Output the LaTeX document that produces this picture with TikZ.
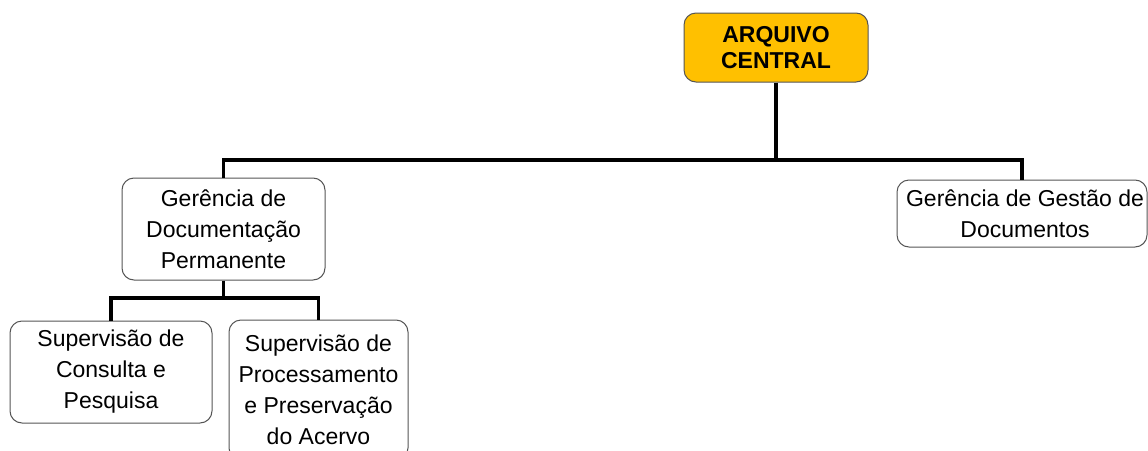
\documentclass[tikz,border=0pt]{standalone}
\usepackage{fontspec}
\setmainfont{Liberation Sans}
\definecolor{acfill}{HTML}{FFC000}
\definecolor{boxline}{HTML}{555555}
\begin{document}
\begin{tikzpicture}[x=1pt,y=-1pt,
  box/.style={draw=boxline, line width=1pt, rounded corners=12pt, fill=white,
    align=center, inner sep=0pt, font=\fontsize{23}{31}\selectfont},
  topbox/.style={draw=boxline, line width=1pt, rounded corners=12pt, fill=acfill,
    align=center, inner sep=0pt, font=\bfseries\fontsize{23}{26.5}\selectfont},
  conn/.style={line width=3.6pt, black}]
\useasboundingbox (0,0) rectangle (1148,450);
\clip (0,0) rectangle (1148,450);
\fill[white] (0,0) rectangle (1148,450);
\node[topbox, minimum width=184pt, minimum height=69pt] (ac) at (776,47.5) {ARQUIVO\\CENTRAL};
\node[box, minimum width=203pt, minimum height=102pt] (gdp) at (223.5,229) {Gerência de\\Documentação\\Permanente};
\node[box, minimum width=250pt, minimum height=67pt] (ggd) at (1022,213.5) {\hspace*{6pt}Gerência de Gestão de\\\hspace*{6pt}Documentos};
\node[box, minimum width=202pt, minimum height=102pt] (scp) at (111,372) {\raisebox{-4pt}{\parbox{200pt}{\centering Supervisão de\\Consulta e\\Pesquisa}}};
\node[box, minimum width=179pt, minimum height=140pt] (spp) at (318.5,390) {Supervisão de\\Processamento\\e Preservação\\do Acervo};
\coordinate (bus) at (776,160);
\coordinate (bus2) at (222,298);
\draw[conn] (ac.south) -- (ac.south |- bus);
\draw[conn] (gdp.north) |- (bus) -| (ggd.north);
\draw[conn] (gdp.south) -- (gdp.south |- bus2);
\draw[conn] (scp.north) |- (gdp.south |- bus2) -| (spp.north);
\end{tikzpicture}
\end{document}
